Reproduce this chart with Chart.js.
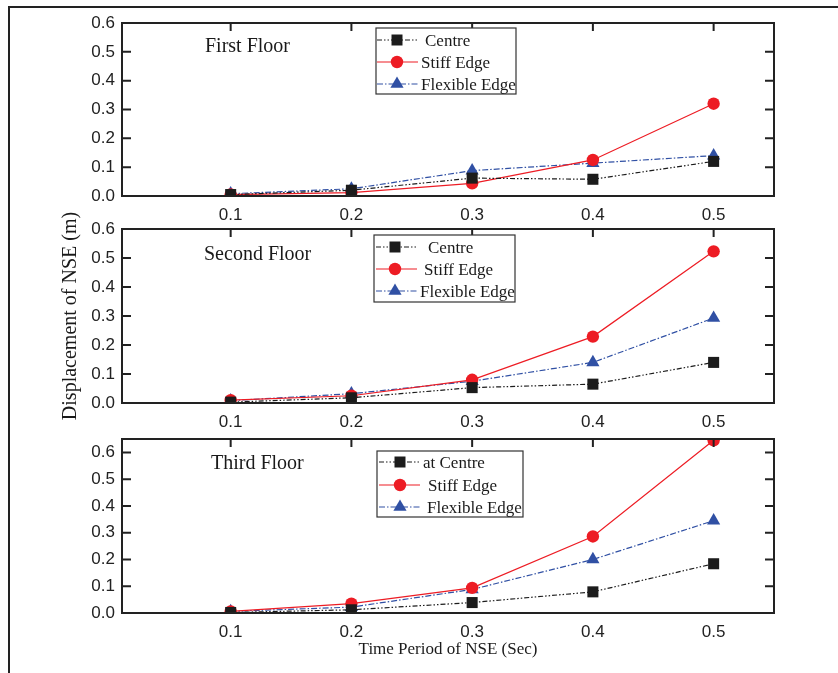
<!DOCTYPE html>
<html>
<head>
<meta charset="utf-8">
<script src="https://cdn.jsdelivr.net/npm/chart.js@4.4.1/dist/chart.umd.min.js"></script>
<style>
  body { margin: 0; background: #fff; width: 838px; height: 673px; overflow: hidden; position: relative; }
  #frame { position: absolute; left: 8px; top: 6px; width: 840px; height: 680px; border-top: 2px solid #222; border-left: 2px solid #222; }
  .pane { position: absolute; left: 0; width: 838px; }
</style>
</head>
<body>
<div id="frame"></div>
<div class="pane" style="top:0;height:226px"><canvas id="floor1"></canvas></div>
<div class="pane" style="top:200px;height:233px"><canvas id="floor2"></canvas></div>
<div class="pane" style="top:420px;height:253px"><canvas id="floor3"></canvas></div>
<script>
// time period of NSE (sec)
var periods = [0.1, 0.2, 0.3, 0.4, 0.5];
var xTicks = [0.1, 0.2, 0.3, 0.4, 0.5];
var yTicks = [0, 0.1, 0.2, 0.3, 0.4, 0.5, 0.6];

// displacement (m)
var first_centre = [0.005, 0.02, 0.062, 0.058, 0.12];
var first_stiff  = [0.005, 0.012, 0.044, 0.125, 0.32];
var first_flex   = [0.008, 0.025, 0.088, 0.114, 0.14];

var second_centre = [0.003, 0.018, 0.053, 0.065, 0.14];
var second_stiff  = [0.01, 0.025, 0.08, 0.229, 0.523];
var second_flex   = [0.008, 0.032, 0.075, 0.14, 0.293];

var third_centre = [0.002, 0.012, 0.039, 0.079, 0.184];
var third_stiff  = [0.006, 0.035, 0.094, 0.286, 0.645];
var third_flex   = [0.006, 0.022, 0.088, 0.2, 0.345];

var BLACK = '#1c1c1c', RED = '#ed1c24', BLUE = '#3050a4';
var SANS = 'Liberation Sans', SERIF = 'Liberation Serif';

function pts(vals) {
  return periods.map(function (p, i) { return { x: p, y: vals[i] }; });
}

function series(names, c, s, f) {
  return [
    { label: names[0], data: pts(c), borderColor: BLACK, backgroundColor: BLACK, borderWidth: 1.2,
      borderDash: [5, 2, 1.5, 2, 1.5, 2], pointStyle: 'rect', pointRadius: 7.8, pointBorderWidth: 0, mark: 'square' },
    { label: names[1], data: pts(s), borderColor: RED, backgroundColor: RED, borderWidth: 1.2,
      pointStyle: 'circle', pointRadius: 6.2, pointBorderWidth: 0, mark: 'circle' },
    { label: names[2], data: pts(f), borderColor: BLUE, backgroundColor: BLUE, borderWidth: 1.2,
      borderDash: [6, 2, 1.5, 2], pointStyle: 'triangle', pointRadius: 7.6, pointBorderWidth: 0, mark: 'triangle' }
  ];
}

function drawMark(ctx, kind, x, y, color) {
  ctx.save();
  ctx.fillStyle = color;
  ctx.setLineDash([]);
  ctx.beginPath();
  if (kind === 'square') {
    ctx.rect(x - 5.5, y - 5.5, 11, 11);
  } else if (kind === 'circle') {
    ctx.arc(x, y, 6.2, 0, Math.PI * 2);
  } else {
    ctx.moveTo(x, y - 7.6);
    ctx.lineTo(x + 6.6, y + 3.8);
    ctx.lineTo(x - 6.6, y + 3.8);
    ctx.closePath();
  }
  ctx.fill();
  ctx.restore();
}

var panelDeco = {
  id: 'panelDeco',
  afterDraw: function (chart, args, o) {
    var ctx = chart.ctx, a = chart.chartArea;
    var xs = chart.scales.x, ys = chart.scales.y;
    ctx.save();
    ctx.strokeStyle = '#222';
    ctx.lineWidth = 2;
    ctx.setLineDash([]);
    ctx.strokeRect(a.left, a.top, a.right - a.left, a.bottom - a.top);
    ctx.beginPath();
    xTicks.forEach(function (v) {
      var px = xs.getPixelForValue(v);
      ctx.moveTo(px, a.top); ctx.lineTo(px, a.top + 8);
    });
    yTicks.forEach(function (v) {
      var py = ys.getPixelForValue(v);
      ctx.moveTo(a.left, py); ctx.lineTo(a.left + 9, py);
      ctx.moveTo(a.right, py); ctx.lineTo(a.right - 9, py);
    });
    ctx.stroke();

    // label and legend are placed in page coordinates
    ctx.translate(0, -o.top);

    ctx.fillStyle = '#1a1a1a';
    ctx.font = '20px "' + SERIF + '"';
    ctx.textBaseline = 'alphabetic';
    ctx.textAlign = 'left';
    ctx.fillText(o.label, o.labelX, o.labelY);

    var L = o.legend;
    ctx.fillStyle = '#fff';
    ctx.fillRect(L.box[0], L.box[1], L.box[2] - L.box[0], L.box[3] - L.box[1]);
    ctx.lineWidth = 1.2;
    ctx.strokeStyle = '#333';
    ctx.strokeRect(L.box[0], L.box[1], L.box[2] - L.box[0], L.box[3] - L.box[1]);
    ctx.font = '17px "' + SERIF + '"';
    chart.data.datasets.forEach(function (ds, i) {
      var ry = L.rows[i];
      ctx.save();
      ctx.strokeStyle = ds.borderColor;
      ctx.lineWidth = 1.2;
      ctx.setLineDash(ds.borderDash || []);
      ctx.beginPath();
      ctx.moveTo(L.lineX[0], ry); ctx.lineTo(L.lineX[1], ry);
      ctx.stroke();
      ctx.restore();
      drawMark(ctx, ds.mark, L.markX, ry, ds.backgroundColor);
      ctx.fillStyle = '#1a1a1a';
      ctx.fillText(ds.label, L.textX[i], ry + 6);
    });
    ctx.restore();
  }
};

function makeChart(id, datasets, cfg) {
  cfg.deco.top = cfg.top;
  return new Chart(document.getElementById(id), {
    type: 'line',
    data: { datasets: datasets },
    plugins: [panelDeco],
    options: {
      responsive: true,
      maintainAspectRatio: false,
      animation: false,
      layout: { padding: { top: cfg.padTop, right: 64, left: 0, bottom: 0 } },
      plugins: {
        legend: { display: false },
        tooltip: { enabled: false },
        panelDeco: cfg.deco
      },
      scales: {
        x: {
          type: 'linear',
          min: 0.01,
          max: 0.55,
          afterBuildTicks: function (s) { s.ticks = xTicks.map(function (v) { return { value: v }; }); },
          afterFit: function (s) { s.height = cfg.xHeight; },
          ticks: {
            padding: 9,
            color: '#222',
            font: { family: SANS, size: 17 },
            callback: function (v) { return v.toFixed(1); }
          },
          grid: { display: false, drawTicks: false },
          border: { display: false },
          title: cfg.xTitle || { display: false }
        },
        y: {
          min: 0,
          max: cfg.ymax,
          afterBuildTicks: function (s) { s.ticks = yTicks.map(function (v) { return { value: v }; }); },
          afterFit: function (s) { s.width = 122; },
          ticks: {
            padding: 7,
            color: '#222',
            font: { family: SANS, size: 17 },
            callback: function (v) { return v.toFixed(1); }
          },
          grid: { display: false, drawTicks: false },
          border: { display: false },
          title: cfg.yTitle || { display: false }
        }
      }
    }
  });
}

makeChart('floor1', series(['Centre', 'Stiff Edge', 'Flexible Edge'], first_centre, first_stiff, first_flex), {
  top: 0, padTop: 23, xHeight: 30, ymax: 0.6,
  deco: {
    label: 'First Floor', labelX: 205, labelY: 52,
    legend: { box: [376, 28, 516, 94], rows: [40, 62, 84], lineX: [377, 418], markX: 397, textX: [425, 421, 421] }
  }
});

makeChart('floor2', series(['Centre', 'Stiff Edge', 'Flexible Edge'], second_centre, second_stiff, second_flex), {
  top: 200, padTop: 29, xHeight: 30, ymax: 0.6,
  yTitle: { display: true, text: 'Displacement of NSE (m)', color: '#1a1a1a', font: { family: SERIF, size: 20 }, padding: { top: 59, bottom: 0 } },
  deco: {
    label: 'Second Floor', labelX: 204, labelY: 260,
    legend: { box: [374, 235, 515, 302], rows: [247, 269, 291], lineX: [376, 417], markX: 395, textX: [428, 424, 420] }
  }
});

makeChart('floor3', series(['at Centre', 'Stiff Edge', 'Flexible Edge'], third_centre, third_stiff, third_flex), {
  top: 420, padTop: 19, xHeight: 60, ymax: 0.65,
  xTitle: { display: true, text: 'Time Period of NSE (Sec)', color: '#1a1a1a', font: { family: SERIF, size: 17 }, padding: { top: 0, bottom: 13 } },
  deco: {
    label: 'Third Floor', labelX: 211, labelY: 469,
    legend: { box: [377, 451, 523, 517], rows: [462, 485, 507], lineX: [379, 420], markX: 400, textX: [423, 428, 427] }
  }
});
</script>
</body>
</html>
